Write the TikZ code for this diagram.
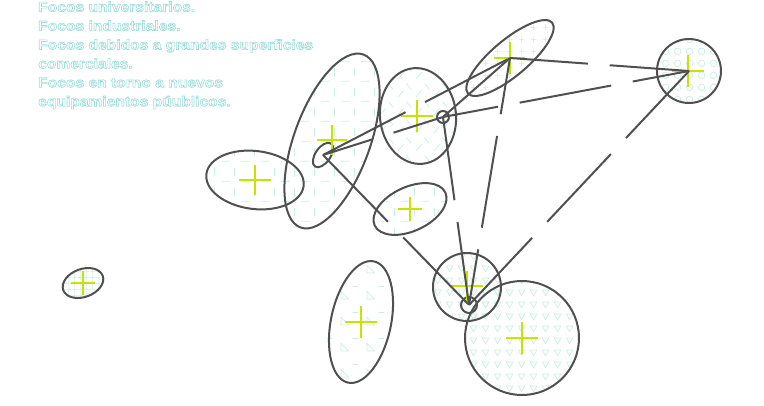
\documentclass[tikz,border=0pt]{standalone}
\usepackage{fontspec}
\newfontfamily\headfont[FakeStretch=1.115]{Liberation Sans}
\usetikzlibrary{patterns}
\definecolor{linegray}{HTML}{505050}
\definecolor{lime}{HTML}{C6E400}
\definecolor{mint}{HTML}{CDEEE4}
\newcommand\outl[1]{\special{pdf:literal direct q 1 Tr 0.65 w 0.62 0.87 0.85 RG}#1\special{pdf:literal direct Q}}
\pgfdeclarepatternformonly{mygrid}{\pgfpointorigin}{\pgfpoint{6pt}{6pt}}{\pgfpoint{6pt}{6pt}}{%
  \pgfsetlinewidth{0.6pt}%
  \pgfpathmoveto{\pgfpoint{0pt}{3pt}}\pgfpathlineto{\pgfpoint{6pt}{3pt}}%
  \pgfpathmoveto{\pgfpoint{3pt}{0pt}}\pgfpathlineto{\pgfpoint{3pt}{6pt}}%
  \pgfusepath{stroke}}
\pgfdeclarepatternformonly{dashmarks}{\pgfpointorigin}{\pgfpoint{20pt}{20pt}}{\pgfpoint{20pt}{20pt}}{%
  \pgfsetlinewidth{0.8pt}%
  \pgfpathmoveto{\pgfpoint{1pt}{4pt}}\pgfpathlineto{\pgfpoint{10pt}{4pt}}%
  \pgfpathmoveto{\pgfpoint{15pt}{9pt}}\pgfpathlineto{\pgfpoint{15pt}{18pt}}%
  \pgfusepath{stroke}}
\pgfdeclarepatternformonly{slashes}{\pgfpointorigin}{\pgfpoint{18pt}{18pt}}{\pgfpoint{18pt}{18pt}}{%
  \pgfsetlinewidth{0.8pt}%
  \pgfpathmoveto{\pgfpoint{2pt}{2pt}}\pgfpathlineto{\pgfpoint{8pt}{9pt}}%
  \pgfpathmoveto{\pgfpoint{11pt}{16pt}}\pgfpathlineto{\pgfpoint{16pt}{10pt}}%
  \pgfusepath{stroke}}
\pgfdeclarepatternformonly{plusses}{\pgfpointorigin}{\pgfpoint{12pt}{12pt}}{\pgfpoint{12pt}{12pt}}{%
  \pgfsetlinewidth{0.8pt}%
  \pgfpathmoveto{\pgfpoint{3pt}{6pt}}\pgfpathlineto{\pgfpoint{9pt}{6pt}}%
  \pgfpathmoveto{\pgfpoint{6pt}{3pt}}\pgfpathlineto{\pgfpoint{6pt}{9pt}}%
  \pgfusepath{stroke}}
\pgfdeclarepatternformonly{rings}{\pgfpointorigin}{\pgfpoint{12pt}{12pt}}{\pgfpoint{12pt}{12pt}}{%
  \pgfsetlinewidth{0.8pt}%
  \pgfpathcircle{\pgfpoint{6pt}{6pt}}{3.5pt}%
  \pgfusepath{stroke}}
\pgfdeclarepatternformonly{triangs}{\pgfpointorigin}{\pgfpoint{12pt}{12pt}}{\pgfpoint{12pt}{12pt}}{%
  \pgfsetlinewidth{0.8pt}%
  \pgfpathmoveto{\pgfpoint{2.5pt}{8.5pt}}\pgfpathlineto{\pgfpoint{9.5pt}{8.5pt}}%
  \pgfpathlineto{\pgfpoint{6pt}{2.5pt}}\pgfpathclose
  \pgfusepath{stroke}}
\pgfdeclarepatternformonly{sparsetri}{\pgfpointorigin}{\pgfpoint{26pt}{26pt}}{\pgfpoint{26pt}{26pt}}{%
  \pgfsetlinewidth{0.8pt}%
  \pgfpathmoveto{\pgfpoint{3pt}{3pt}}\pgfpathlineto{\pgfpoint{11pt}{3pt}}%
  \pgfpathlineto{\pgfpoint{3pt}{11pt}}\pgfpathclose
  \pgfpathmoveto{\pgfpoint{15pt}{16pt}}\pgfpathlineto{\pgfpoint{21pt}{16pt}}%
  \pgfusepath{stroke}}
\tikzset{
  zone/.style={draw=linegray, line width=2pt},
  crossmark/.style={draw=lime, line width=2.6pt},
  conn/.style={draw=linegray, line width=2pt, dash pattern=on 93pt off 22pt},
  legend/.style={anchor=base west, inner sep=0pt, font=\headfont\bfseries\fontsize{14pt}{14pt}\selectfont}
}
\begin{document}
\begin{tikzpicture}[x=1pt, y=-1pt]
\useasboundingbox (0,0) rectangle (764,405);
% centres
\coordinate (e1) at (83,283);
\coordinate (e2) at (255,180);
\coordinate (e3) at (332,141);
\coordinate (A) at (323,155);
\coordinate (e5) at (418,116);
\coordinate (B) at (443,117);
\coordinate (C) at (510,58);
\coordinate (D) at (689,71);
\coordinate (e9) at (410,209);
\coordinate (e10) at (361,322);
\coordinate (e11) at (467,287);
\coordinate (E) at (469,305);
\coordinate (e13) at (522,338);
% legend text
\node[legend] (t1) at (38,11.7) {\outl{Focos universitarios.}};
\node[legend] (t2) at (38,30.6) {\outl{Focos industriales.}};
\node[legend] (t3) at (38,49.5) {\outl{Focos debidos a grandes superficies}};
\node[legend] (t4) at (38,68.4) {\outl{comerciales.}};
\node[legend] (t5) at (38,87.3) {\outl{Focos en torno a nuevos}};
\node[legend] (t6) at (38,106.2) {\outl{equipamientos púublicos.}};
% pattern fills
\fill[pattern=mygrid, pattern color=mint, rotate around={20:(e1)}] (e1) ellipse [x radius=21pt, y radius=14pt];
\fill[pattern=dashmarks, pattern color=mint, rotate around={-7:(e2)}] (e2) ellipse [x radius=49pt, y radius=29pt];
\fill[pattern=dashmarks, pattern color=mint, rotate around={70:(e3)}] (e3) ellipse [x radius=92pt, y radius=38pt];
\fill[pattern=slashes, pattern color=mint, rotate around={6:(e5)}] (e5) ellipse [x radius=38pt, y radius=48pt];
\fill[pattern=plusses, pattern color=mint!80, rotate around={40:(C)}] (C) ellipse [x radius=55pt, y radius=18pt];
\fill[pattern=rings, pattern color=mint] (D) circle [radius=32pt];
\fill[pattern=dashmarks, pattern color=mint, rotate around={25:(e9)}] (e9) ellipse [x radius=39pt, y radius=22pt];
\fill[pattern=sparsetri, pattern color=mint, rotate around={78:(e10)}] (e10) ellipse [x radius=62pt, y radius=30pt];
\fill[pattern=triangs, pattern color=mint] (e11) circle [radius=34pt];
\fill[pattern=triangs, pattern color=mint] (e13) circle [radius=57pt];
% outlines
\draw[zone, rotate around={20:(e1)}] (e1) ellipse [x radius=21pt, y radius=14pt];
\draw[zone, rotate around={-7:(e2)}] (e2) ellipse [x radius=49pt, y radius=29pt];
\draw[zone, rotate around={70:(e3)}] (e3) ellipse [x radius=92pt, y radius=38pt];
\draw[zone, rotate around={55:(A)}] (A) ellipse [x radius=14pt, y radius=7.5pt];
\draw[zone, rotate around={6:(e5)}] (e5) ellipse [x radius=38pt, y radius=48pt];
\draw[zone] (B) circle [radius=6pt];
\draw[zone, rotate around={40:(C)}] (C) ellipse [x radius=55pt, y radius=18pt];
\draw[zone] (D) circle [radius=32pt];
\draw[zone, rotate around={25:(e9)}] (e9) ellipse [x radius=39pt, y radius=22pt];
\draw[zone, rotate around={78:(e10)}] (e10) ellipse [x radius=62pt, y radius=30pt];
\draw[zone] (e11) circle [radius=34pt];
\draw[zone] (E) circle [radius=8pt];
\draw[zone] (e13) circle [radius=57pt];
% crosses
\draw[crossmark] ([xshift=-12pt]e1) -- ([xshift=12pt]e1) ([yshift=-12pt]e1) -- ([yshift=12pt]e1);
\draw[crossmark] ([xshift=-16pt]e2) -- ([xshift=16pt]e2) ([yshift=-15pt]e2) -- ([yshift=15pt]e2);
\draw[crossmark] ([xshift=-15pt,yshift=1pt]e3) -- ([xshift=15pt,yshift=1pt]e3) ([yshift=-14pt]e3) -- ([yshift=16pt]e3);
\draw[crossmark] ([xshift=-17pt]e5) -- ([xshift=15pt]e5) ([xshift=-1pt,yshift=-16pt]e5) -- ([xshift=-1pt,yshift=16pt]e5);
\draw[crossmark] ([xshift=-16pt]C) -- ([xshift=15pt]C) ([yshift=-16pt]C) -- ([yshift=16pt]C);
\draw[crossmark] ([xshift=-17pt]D) -- ([xshift=15pt]D) ([xshift=-1pt,yshift=-16pt]D) -- ([xshift=-1pt,yshift=16pt]D);
\draw[crossmark] ([xshift=-12pt]e9) -- ([xshift=12pt]e9) ([yshift=-12pt]e9) -- ([yshift=12pt]e9);
\draw[crossmark] ([xshift=-16pt]e10) -- ([xshift=16pt]e10) ([yshift=-16pt]e10) -- ([yshift=16pt]e10);
\draw[crossmark] ([xshift=-16pt,yshift=1pt]e11) -- ([xshift=16pt,yshift=1pt]e11) ([yshift=-15pt]e11) -- ([yshift=16pt]e11);
\draw[crossmark] ([xshift=-16pt]e13) -- ([xshift=16pt]e13) ([yshift=-16pt]e13) -- ([yshift=16pt]e13);
% connectors
\draw[conn, dash phase=41pt] (A) -- (B);
\draw[conn] (A) -- (C);
\draw[conn] (A) -- (E);
\draw[conn] (B) -- (C);
\draw[conn, dash phase=37pt] (B) -- (D);
\draw[conn, dash phase=9pt] (B) -- (E);
\draw[conn, dash phase=15pt] (C) -- (D);
\draw[conn, dash phase=36pt] (C) -- (E);
\draw[conn, dash phase=1pt] (D) -- (E);
\end{tikzpicture}
\end{document}
